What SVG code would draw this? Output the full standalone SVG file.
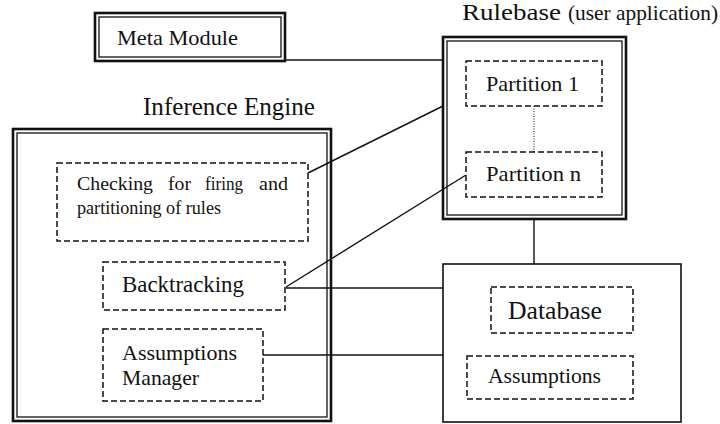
<svg xmlns="http://www.w3.org/2000/svg" width="720" height="424" viewBox="0 0 720 424">
<style>
text{fill:#111;font-family:"Liberation Serif","Times New Roman",Times,serif}
.o{fill:none;stroke:#111;stroke-width:2.6}
.i{fill:none;stroke:#111;stroke-width:1.3}
.s{fill:none;stroke:#111;stroke-width:1.6}
.d{fill:none;stroke:#111;stroke-width:1.5;stroke-dasharray:6 3}
.c{fill:none;stroke:#111;stroke-width:1.4}
.dot{fill:none;stroke:#111;stroke-width:1;stroke-dasharray:1 1.5}
</style>
<rect width="720" height="424" fill="#fff"/>
<g id="connectors">
<line class="c" x1="286" y1="60" x2="443" y2="60"/>
<line class="c" x1="308" y1="173" x2="443" y2="106"/>
<line class="c" x1="466" y1="175" x2="286" y2="287"/>
<line class="c" x1="286" y1="288" x2="443" y2="288"/>
<line class="c" x1="263" y1="355" x2="443" y2="355"/>
<line class="c" x1="534" y1="220" x2="534" y2="264"/>
<line class="dot" x1="534" y1="106" x2="534" y2="152"/>
</g>
<g id="meta">
<rect class="o" x="95" y="13" width="190" height="48"/>
<rect class="i" x="99" y="17" width="182" height="40"/>
<text x="117" y="45" font-size="22" textLength="121" lengthAdjust="spacingAndGlyphs">Meta Module</text>
</g>
<g id="inference">
<text x="143" y="115" font-size="25" textLength="172" lengthAdjust="spacingAndGlyphs">Inference Engine</text>
<rect class="o" x="13" y="129" width="318" height="292"/>
<rect class="i" x="17" y="133" width="310" height="284"/>
</g>
<g id="checking">
<rect class="d" x="57" y="163" width="251" height="78"/>
<text x="77" y="190" font-size="19" textLength="76" lengthAdjust="spacingAndGlyphs">Checking</text>
<text x="168" y="190" font-size="19" textLength="23" lengthAdjust="spacingAndGlyphs">for</text>
<text x="205" y="190" font-size="19" textLength="38" lengthAdjust="spacingAndGlyphs">firing</text>
<text x="259" y="190" font-size="19" textLength="29" lengthAdjust="spacingAndGlyphs">and</text>
<text x="77" y="214" font-size="19" textLength="144" lengthAdjust="spacingAndGlyphs">partitioning of rules</text>
</g>
<g id="backtracking">
<rect class="d" x="103" y="262" width="182" height="48"/>
<text x="122" y="292" font-size="22.5" textLength="122" lengthAdjust="spacingAndGlyphs">Backtracking</text>
</g>
<g id="assumptions-manager">
<rect class="d" x="103" y="329" width="160" height="72"/>
<text x="122" y="360" font-size="22" textLength="115" lengthAdjust="spacingAndGlyphs">Assumptions</text>
<text x="122" y="385" font-size="22" textLength="77" lengthAdjust="spacingAndGlyphs">Manager</text>
</g>
<g id="rulebase">
<text x="462" y="20" font-size="24" textLength="99" lengthAdjust="spacingAndGlyphs">Rulebase</text>
<text x="568" y="20" font-size="21" textLength="150" lengthAdjust="spacingAndGlyphs">(user application)</text>
<rect class="o" x="443" y="37" width="183" height="182"/>
<rect class="i" x="447" y="41" width="175" height="174"/>
</g>
<g id="partition-1">
<rect class="d" x="466" y="61" width="136" height="45"/>
<text x="486" y="91" font-size="22" textLength="93" lengthAdjust="spacingAndGlyphs">Partition 1</text>
</g>
<g id="partition-n">
<rect class="d" x="466" y="152" width="136" height="45"/>
<text x="486" y="181" font-size="22" textLength="95" lengthAdjust="spacingAndGlyphs">Partition n</text>
</g>
<g id="database-box">
<rect class="s" x="443" y="264" width="238" height="158"/>
</g>
<g id="database">
<rect class="d" x="491" y="287" width="142" height="46"/>
<text x="508" y="319" font-size="25" textLength="94" lengthAdjust="spacingAndGlyphs">Database</text>
</g>
<g id="assumptions">
<rect class="d" x="467" y="356" width="166" height="43"/>
<text x="488" y="383" font-size="22" textLength="113" lengthAdjust="spacingAndGlyphs">Assumptions</text>
</g>
</svg>
